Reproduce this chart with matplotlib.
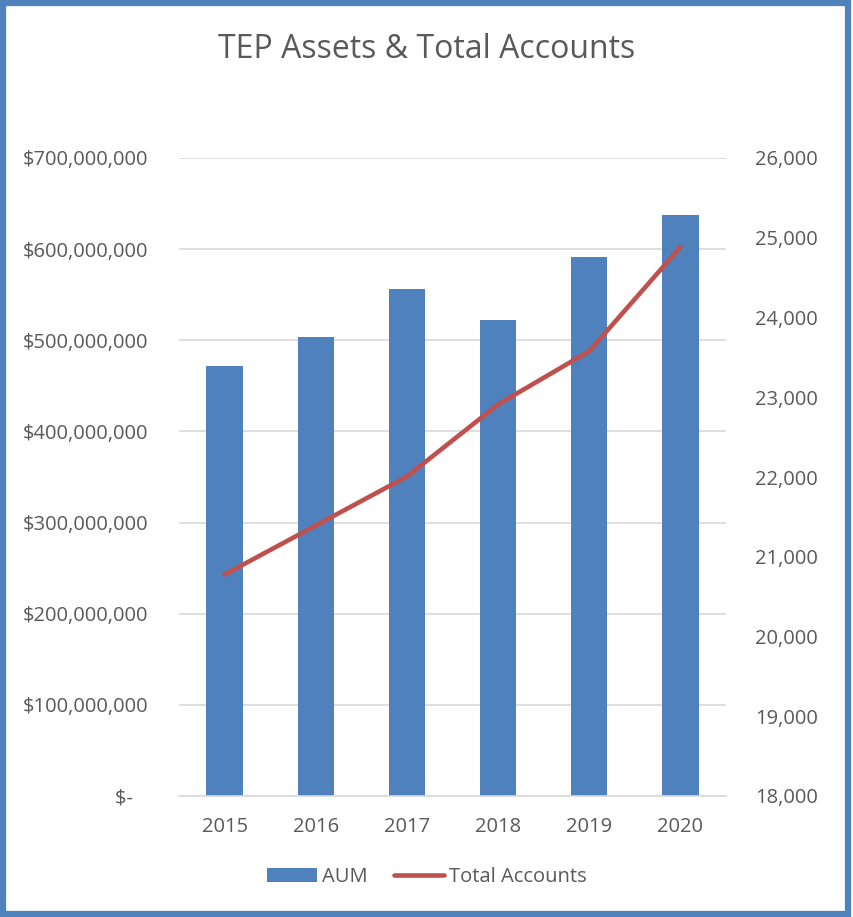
import matplotlib
matplotlib.use("Agg")
import matplotlib.pyplot as plt
from matplotlib.patches import Rectangle
from matplotlib.ticker import FuncFormatter

years = ["2015", "2016", "2017", "2018", "2019", "2020"]
aum = [472e6, 503.6e6, 556e6, 522.3e6, 591.2e6, 637.7e6]
accounts = [20777, 21391, 22006, 22910, 23578, 24883]

blue = "#4F81BD"
red = "#C0504D"
grey = "#595959"

plt.rcParams["font.family"] = ["Open Sans", "DejaVu Sans"]

fig = plt.figure(figsize=(8.54, 9.17), dpi=100)
W, H = 854, 917
ax = fig.add_axes([179 / W, 1 - 796 / H, (726 - 179) / W, (796 - 158) / H])
ax2 = ax.twinx()

x = range(len(years))
ax.bar(x, aum, width=0.4, color=blue, label="AUM", zorder=2)
ax2.plot(x, accounts, color=red, lw=3.3, solid_capstyle="round", label="Total Accounts", zorder=3)

ax.set_xlim(-0.5, len(years) - 0.5)
ax.set_ylim(0, 700e6)
ax.set_yticks([i * 100e6 for i in range(8)])
ax.yaxis.set_major_formatter(FuncFormatter(lambda v, p: "$-   " if v == 0 else "${:,.0f}".format(v)))
ax2.set_ylim(18000, 26000)
ax2.set_yticks(range(18000, 26001, 1000))
ax2.yaxis.set_major_formatter(FuncFormatter(lambda v, p: "{:,.0f}".format(v)))

ax.set_xticks(list(x))
ax.set_xticklabels(years)
ax.grid(axis="y", color="#D9D9D9", lw=1.2, zorder=0)
ax.set_axisbelow(True)

for a in (ax, ax2):
    for s in a.spines.values():
        s.set_visible(False)
    a.tick_params(length=0, labelsize=14.5, labelcolor=grey)
ax.tick_params(axis="y", pad=22)
ax2.tick_params(axis="y", pad=21)
ax.tick_params(axis="x", pad=15)
ax.spines["bottom"].set_visible(True)
ax.spines["bottom"].set_color("#D9D9D9")
ax.spines["bottom"].set_linewidth(1.2)

fig.text(0.5, 1 - 50 / H, "TEP Assets & Total Accounts", ha="center", va="center",
         fontsize=23, color=grey)

h1, l1 = ax.get_legend_handles_labels()
h2, l2 = ax2.get_legend_handles_labels()
fig.legend(h1 + h2, l1 + l2, loc="center", bbox_to_anchor=(0.5, 1 - 877 / H), ncol=2,
           frameon=False, fontsize=14.5, labelcolor=grey, handlelength=2.5,
           handleheight=0.65, handletextpad=0.25, columnspacing=1.3)

fig.patches.append(Rectangle((3 / W, 3 / H), 1 - 9 / W, 1 - 6 / H, transform=fig.transFigure,
                             fill=False, edgecolor=blue, lw=4.5))

fig.savefig("out.png", dpi=100)
